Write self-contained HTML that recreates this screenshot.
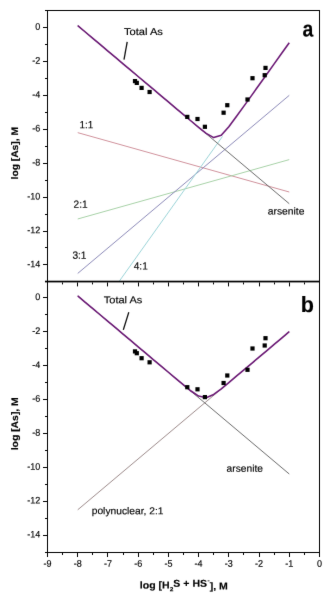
<!DOCTYPE html>
<html><head><meta charset="utf-8"><style>
html,body{margin:0;padding:0;background:#fff;}
body{width:330px;height:600px;overflow:hidden;}
svg{display:block;}
text{font-family:"Liberation Sans", sans-serif;fill:#000;stroke:#000;stroke-width:0.15;}
</style></head><body>
<svg width="330" height="600" viewBox="0 0 330 600" xmlns="http://www.w3.org/2000/svg">
<defs><filter id="bl" filterUnits="userSpaceOnUse" x="0" y="0" width="330" height="600" color-interpolation-filters="sRGB"><feConvolveMatrix order="3" kernelMatrix="0.0049 0.0602 0.0049 0.0602 0.7396 0.0602 0.0049 0.0602 0.0049" preserveAlpha="false" edgeMode="none"/></filter></defs>
<rect width="330" height="600" fill="#fff"/>
<g filter="url(#bl)">
<line x1="77.72" y1="132.65" x2="289.26" y2="192.01" stroke="#d0929c" stroke-width="1"/>
<line x1="77.72" y1="218.98" x2="289.26" y2="159.62" stroke="#a8d2a8" stroke-width="1"/>
<line x1="77.72" y1="273.42" x2="289.26" y2="95.34" stroke="#8c8ab8" stroke-width="1"/>
<line x1="118.79" y1="281.9" x2="222.5" y2="136.38" stroke="#9cd4d8" stroke-width="1"/>
<line x1="77.72" y1="25.63" x2="289.26" y2="203.71" stroke="#6a6a6a" stroke-width="1"/>
<polyline points="77.72,25.63 85.28,31.99 92.83,38.35 100.38,44.71 107.94,51.07 115.5,57.43 123.05,63.79 130.6,70.15 138.16,76.51 145.72,82.87 153.27,89.23 160.82,95.59 168.38,101.95 175.94,108.31 183.49,114.66 191.04,121.01 198.6,127.31 206.16,133.36 213.71,137.59 221.26,135.26 228.82,126.73 236.38,116.57 243.93,106.14 251.48,95.62 259.04,85.06 266.6,74.49 274.15,63.9 281.7,53.31 289.26,42.72" fill="none" stroke="#6c1a76" stroke-width="1.6" stroke-linejoin="round"/>
<line x1="77.72" y1="509.8" x2="289.26" y2="331.72" stroke="#9c8a8a" stroke-width="1"/>
<line x1="77.72" y1="295.93" x2="289.26" y2="474.01" stroke="#6a6a6a" stroke-width="1"/>
<polyline points="77.72,295.93 85.28,302.29 92.83,308.65 100.38,315.01 107.94,321.37 115.5,327.73 123.05,334.09 130.6,340.45 138.16,346.81 145.72,353.17 153.27,359.53 160.82,365.89 168.38,372.25 175.94,378.6 183.49,384.92 191.04,391.02 198.6,396.08 206.16,397.67 213.71,394.43 221.26,388.79 228.82,382.57 236.38,376.23 243.93,369.88 251.48,363.52 259.04,357.16 266.6,350.8 274.15,344.44 281.7,338.08 289.26,331.72" fill="none" stroke="#6c1a76" stroke-width="1.6" stroke-linejoin="round"/>
<rect x="132.9" y="79" width="4.2" height="4.2" fill="#000"/>
<rect x="134.7" y="80.8" width="4.2" height="4.2" fill="#000"/>
<rect x="139.5" y="85.8" width="4.2" height="4.2" fill="#000"/>
<rect x="147.5" y="89.9" width="4.2" height="4.2" fill="#000"/>
<rect x="185.2" y="114.8" width="4.2" height="4.2" fill="#000"/>
<rect x="195.4" y="116.9" width="4.2" height="4.2" fill="#000"/>
<rect x="202.8" y="124.7" width="4.2" height="4.2" fill="#000"/>
<rect x="221.5" y="110.6" width="4.2" height="4.2" fill="#000"/>
<rect x="225.2" y="103.1" width="4.2" height="4.2" fill="#000"/>
<rect x="245.4" y="97.4" width="4.2" height="4.2" fill="#000"/>
<rect x="250.4" y="76.1" width="4.2" height="4.2" fill="#000"/>
<rect x="262.6" y="73.1" width="4.2" height="4.2" fill="#000"/>
<rect x="263.4" y="65.8" width="4.2" height="4.2" fill="#000"/>
<rect x="132.9" y="349.3" width="4.2" height="4.2" fill="#000"/>
<rect x="134.7" y="351.1" width="4.2" height="4.2" fill="#000"/>
<rect x="139.5" y="356.1" width="4.2" height="4.2" fill="#000"/>
<rect x="147.5" y="360.2" width="4.2" height="4.2" fill="#000"/>
<rect x="185.2" y="385.1" width="4.2" height="4.2" fill="#000"/>
<rect x="195.4" y="387.2" width="4.2" height="4.2" fill="#000"/>
<rect x="202.8" y="395" width="4.2" height="4.2" fill="#000"/>
<rect x="221.5" y="380.9" width="4.2" height="4.2" fill="#000"/>
<rect x="225.2" y="373.4" width="4.2" height="4.2" fill="#000"/>
<rect x="245.4" y="367.7" width="4.2" height="4.2" fill="#000"/>
<rect x="250.4" y="346.4" width="4.2" height="4.2" fill="#000"/>
<rect x="262.6" y="343.4" width="4.2" height="4.2" fill="#000"/>
<rect x="263.4" y="336.1" width="4.2" height="4.2" fill="#000"/>
<rect x="45" y="10" width="275" height="1" fill="#000"/>
<rect x="319" y="10" width="1" height="543" fill="#000"/>
<rect x="47" y="10" width="1" height="547" fill="#000"/>
<rect x="45" y="280.7" width="275" height="1.7" fill="#000"/>
<rect x="45" y="552" width="275" height="1" fill="#000"/>
<rect x="43" y="27" width="4" height="1" fill="#000"/>
<text transform="translate(40.3,29.8) rotate(0.05) scale(0.95,1)" font-size="9.5" text-anchor="end">0</text>
<rect x="45" y="44" width="2" height="1" fill="#000"/>
<rect x="43" y="61" width="4" height="1" fill="#000"/>
<text transform="translate(40.3,63.72) rotate(0.05) scale(0.95,1)" font-size="9.5" text-anchor="end">-2</text>
<rect x="45" y="78" width="2" height="1" fill="#000"/>
<rect x="43" y="95" width="4" height="1" fill="#000"/>
<text transform="translate(40.3,97.64) rotate(0.05) scale(0.95,1)" font-size="9.5" text-anchor="end">-4</text>
<rect x="45" y="112" width="2" height="1" fill="#000"/>
<rect x="43" y="129" width="4" height="1" fill="#000"/>
<text transform="translate(40.3,131.56) rotate(0.05) scale(0.95,1)" font-size="9.5" text-anchor="end">-6</text>
<rect x="45" y="146" width="2" height="1" fill="#000"/>
<rect x="43" y="163" width="4" height="1" fill="#000"/>
<text transform="translate(40.3,165.48) rotate(0.05) scale(0.95,1)" font-size="9.5" text-anchor="end">-8</text>
<rect x="45" y="180" width="2" height="1" fill="#000"/>
<rect x="43" y="197" width="4" height="1" fill="#000"/>
<text transform="translate(40.3,199.4) rotate(0.05) scale(0.95,1)" font-size="9.5" text-anchor="end">-10</text>
<rect x="45" y="214" width="2" height="1" fill="#000"/>
<rect x="43" y="231" width="4" height="1" fill="#000"/>
<text transform="translate(40.3,233.32) rotate(0.05) scale(0.95,1)" font-size="9.5" text-anchor="end">-12</text>
<rect x="45" y="247" width="2" height="1" fill="#000"/>
<rect x="43" y="264" width="4" height="1" fill="#000"/>
<text transform="translate(40.3,267.24) rotate(0.05) scale(0.95,1)" font-size="9.5" text-anchor="end">-14</text>
<rect x="43" y="297" width="4" height="1" fill="#000"/>
<text transform="translate(40.3,300.1) rotate(0.05) scale(0.95,1)" font-size="9.5" text-anchor="end">0</text>
<rect x="45" y="314" width="2" height="1" fill="#000"/>
<rect x="43" y="331" width="4" height="1" fill="#000"/>
<text transform="translate(40.3,334.02) rotate(0.05) scale(0.95,1)" font-size="9.5" text-anchor="end">-2</text>
<rect x="45" y="348" width="2" height="1" fill="#000"/>
<rect x="43" y="365" width="4" height="1" fill="#000"/>
<text transform="translate(40.3,367.94) rotate(0.05) scale(0.95,1)" font-size="9.5" text-anchor="end">-4</text>
<rect x="45" y="382" width="2" height="1" fill="#000"/>
<rect x="43" y="399" width="4" height="1" fill="#000"/>
<text transform="translate(40.3,401.86) rotate(0.05) scale(0.95,1)" font-size="9.5" text-anchor="end">-6</text>
<rect x="45" y="416" width="2" height="1" fill="#000"/>
<rect x="43" y="433" width="4" height="1" fill="#000"/>
<text transform="translate(40.3,435.78) rotate(0.05) scale(0.95,1)" font-size="9.5" text-anchor="end">-8</text>
<rect x="45" y="450" width="2" height="1" fill="#000"/>
<rect x="43" y="467" width="4" height="1" fill="#000"/>
<text transform="translate(40.3,469.7) rotate(0.05) scale(0.95,1)" font-size="9.5" text-anchor="end">-10</text>
<rect x="45" y="484" width="2" height="1" fill="#000"/>
<rect x="43" y="501" width="4" height="1" fill="#000"/>
<text transform="translate(40.3,503.62) rotate(0.05) scale(0.95,1)" font-size="9.5" text-anchor="end">-12</text>
<rect x="45" y="518" width="2" height="1" fill="#000"/>
<rect x="43" y="535" width="4" height="1" fill="#000"/>
<text transform="translate(40.3,537.54) rotate(0.05) scale(0.95,1)" font-size="9.5" text-anchor="end">-14</text>
<rect x="47" y="282.4" width="1" height="4" fill="#000"/>
<rect x="47" y="553" width="1" height="4" fill="#000"/>
<text transform="translate(47.5,566.8) rotate(0.05) scale(0.95,1)" font-size="9.5" text-anchor="middle">-9</text>
<rect x="62" y="282.4" width="1" height="2" fill="#000"/>
<rect x="62" y="553" width="1" height="2" fill="#000"/>
<rect x="77" y="282.4" width="1" height="4" fill="#000"/>
<rect x="77" y="553" width="1" height="4" fill="#000"/>
<text transform="translate(77.72,566.8) rotate(0.05) scale(0.95,1)" font-size="9.5" text-anchor="middle">-8</text>
<rect x="92" y="282.4" width="1" height="2" fill="#000"/>
<rect x="92" y="553" width="1" height="2" fill="#000"/>
<rect x="107" y="282.4" width="1" height="4" fill="#000"/>
<rect x="107" y="553" width="1" height="4" fill="#000"/>
<text transform="translate(107.94,566.8) rotate(0.05) scale(0.95,1)" font-size="9.5" text-anchor="middle">-7</text>
<rect x="123" y="282.4" width="1" height="2" fill="#000"/>
<rect x="123" y="553" width="1" height="2" fill="#000"/>
<rect x="138" y="282.4" width="1" height="4" fill="#000"/>
<rect x="138" y="553" width="1" height="4" fill="#000"/>
<text transform="translate(138.16,566.8) rotate(0.05) scale(0.95,1)" font-size="9.5" text-anchor="middle">-6</text>
<rect x="153" y="282.4" width="1" height="2" fill="#000"/>
<rect x="153" y="553" width="1" height="2" fill="#000"/>
<rect x="168" y="282.4" width="1" height="4" fill="#000"/>
<rect x="168" y="553" width="1" height="4" fill="#000"/>
<text transform="translate(168.38,566.8) rotate(0.05) scale(0.95,1)" font-size="9.5" text-anchor="middle">-5</text>
<rect x="183" y="282.4" width="1" height="2" fill="#000"/>
<rect x="183" y="553" width="1" height="2" fill="#000"/>
<rect x="198" y="282.4" width="1" height="4" fill="#000"/>
<rect x="198" y="553" width="1" height="4" fill="#000"/>
<text transform="translate(198.6,566.8) rotate(0.05) scale(0.95,1)" font-size="9.5" text-anchor="middle">-4</text>
<rect x="213" y="282.4" width="1" height="2" fill="#000"/>
<rect x="213" y="553" width="1" height="2" fill="#000"/>
<rect x="228" y="282.4" width="1" height="4" fill="#000"/>
<rect x="228" y="553" width="1" height="4" fill="#000"/>
<text transform="translate(228.82,566.8) rotate(0.05) scale(0.95,1)" font-size="9.5" text-anchor="middle">-3</text>
<rect x="243" y="282.4" width="1" height="2" fill="#000"/>
<rect x="243" y="553" width="1" height="2" fill="#000"/>
<rect x="259" y="282.4" width="1" height="4" fill="#000"/>
<rect x="259" y="553" width="1" height="4" fill="#000"/>
<text transform="translate(259.04,566.8) rotate(0.05) scale(0.95,1)" font-size="9.5" text-anchor="middle">-2</text>
<rect x="274" y="282.4" width="1" height="2" fill="#000"/>
<rect x="274" y="553" width="1" height="2" fill="#000"/>
<rect x="289" y="282.4" width="1" height="4" fill="#000"/>
<rect x="289" y="553" width="1" height="4" fill="#000"/>
<text transform="translate(289.26,566.8) rotate(0.05) scale(0.95,1)" font-size="9.5" text-anchor="middle">-1</text>
<rect x="304" y="282.4" width="1" height="2" fill="#000"/>
<rect x="304" y="553" width="1" height="2" fill="#000"/>
<rect x="319" y="282.4" width="1" height="4" fill="#000"/>
<rect x="319" y="553" width="1" height="4" fill="#000"/>
<text transform="translate(319.48,566.8) rotate(0.05) scale(0.95,1)" font-size="9.5" text-anchor="middle">0</text>
<text transform="translate(123.95,35.04) rotate(0.05) scale(1.121,1)" font-size="9.95">Total As</text>
<text transform="translate(103.74,303.22) rotate(0.05) scale(1.109,1)" font-size="9.95">Total As</text>
<text transform="translate(79.40,128.33) rotate(0.05) scale(0.944,1)" font-size="10.50">1:1</text>
<text transform="translate(73.55,207.74) rotate(0.05) scale(0.972,1)" font-size="10.50">2:1</text>
<text transform="translate(72.40,258.66) rotate(0.05) scale(0.966,1)" font-size="10.50">3:1</text>
<text transform="translate(133.73,269.59) rotate(0.05) scale(0.961,1)" font-size="10.50">4:1</text>
<text transform="translate(267.76,214.54) rotate(0.05) scale(1.038,1)" font-size="9.95">arsenite</text>
<text transform="translate(226.60,471.67) rotate(0.05) scale(1.027,1)" font-size="9.95">arsenite</text>
<text transform="translate(91.72,514.12) rotate(0.05) scale(1.030,1)" font-size="9.95">polynuclear, 2:1</text>
<text transform="translate(302.56,36.44) rotate(0.05) scale(0.870,1)" font-size="22.30" font-weight="bold">a</text>
<text transform="translate(300.81,311.90) rotate(0.05) scale(0.981,1)" font-size="22.00" font-weight="bold">b</text>
<text transform="translate(17.90,179.45) rotate(-89.95) scale(1.076,1)" font-size="9.56" font-weight="bold">log [As], M</text>
<text transform="translate(17.92,450.28) rotate(-89.95) scale(1.088,1)" font-size="9.56" font-weight="bold">log [As], M</text>
<text transform="translate(139.83,588.47) rotate(0.05) scale(1.060,1)" font-size="9.95" font-weight="bold">log [H<tspan font-size="0.62em" dy="0.45em">2</tspan><tspan dy="-0.45em">S + HS</tspan><tspan font-size="0.62em" dx="0.4" dy="-0.72em">-</tspan><tspan dy="0.72em">], M</tspan></text>
<line x1="127.2" y1="41.8" x2="124" y2="59.7" stroke="#111" stroke-width="1.3"/>
<line x1="128.8" y1="312.3" x2="123.3" y2="329.9" stroke="#111" stroke-width="1.3"/>
</g>
</svg>
</body></html>
